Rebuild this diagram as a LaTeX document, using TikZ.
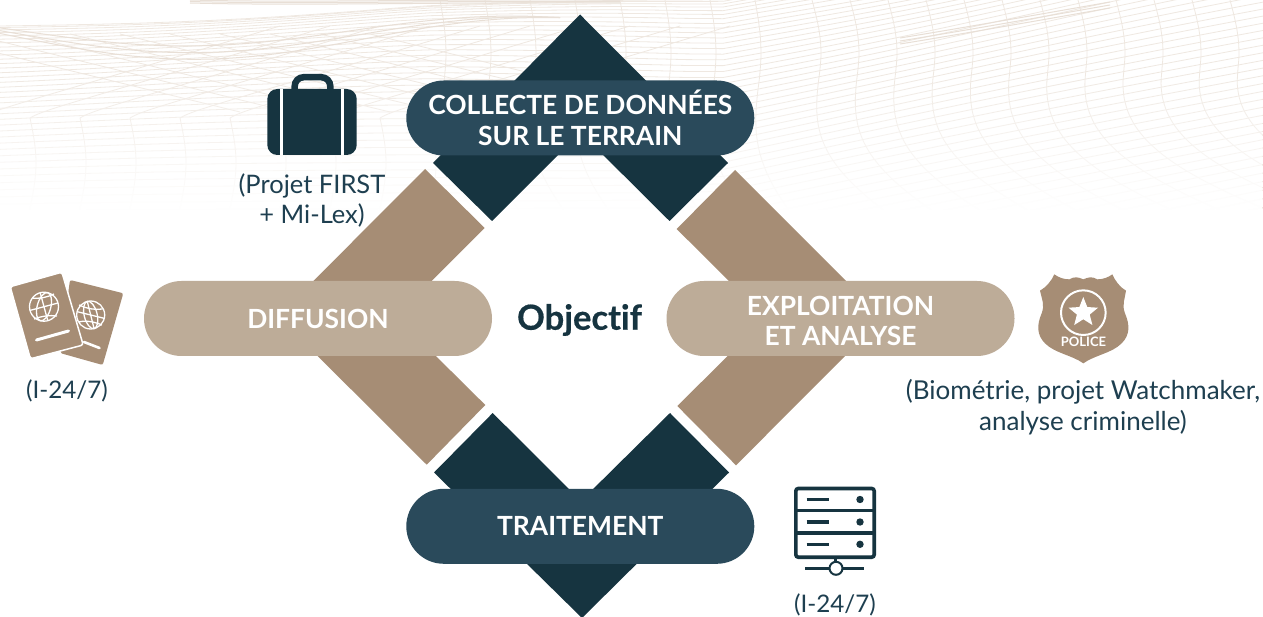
\documentclass[tikz,border=0pt]{standalone}
\usepackage{fontspec}
\setmainfont{Lato}
\newfontfamily\objfont[UprightFont=* Bold,FakeBold=0.5]{Lato}
\usetikzlibrary{shapes.misc,shapes.geometric,fadings}
\definecolor{deep}{HTML}{163440}
\definecolor{pilldark}{HTML}{2A4A5B}
\definecolor{tandark}{HTML}{A68D75}
\definecolor{tanpill}{HTML}{BDAC98}
\definecolor{ink}{HTML}{1E3F50}
\definecolor{meshc}{HTML}{EFE8E1}
\definecolor{meshd}{HTML}{E8DFD6}
\tikzfading[name=meshfade, top color=transparent!100, bottom color=transparent!0]
\tikzset{
  pillbox/.style={rounded rectangle,minimum width=348pt,minimum height=75pt,inner sep=0pt,text=white,align=center,font=\fontsize{26.4}{30.5}\selectfont\bfseries},
  caption/.style={text=ink,align=center,inner sep=0pt,font=\fontsize{25.5}{30.5}\selectfont},
  meshline/.style={draw=meshc,line width=0.8pt},
  meshband/.style={draw=meshd,line width=1pt}
}
\begin{document}
\begin{tikzpicture}[x=1pt,y=-1pt]
\useasboundingbox (0,0) rectangle (1263,617);
\fill[white] (0,0) rectangle (1263,617);
% background mesh
\begin{scope}
\clip (0,0) rectangle (1263,210);
\foreach \k in {0,...,50}{
  \draw[meshline] plot[domain=-10:1273,samples=36,variable=\x]
    ({\x},{5+320*pow(\k/50,1.4)+5*sin(\x*0.4+\k*7)*(1-\k/50)-0.2*max(\x-720,0)+0.05*max(420-\x,0)*(1-\k/50)});
}
\foreach \xo in {812,850,...,1320}{
  \draw[meshline] plot[smooth,domain=0:210,samples=16,variable=\y]
    ({\xo+9*sin(1.7*\y)+35*(max(\y-70,0)/100)*(max(\y-70,0)/100)*(1+(\xo-800)/260)},{\y});
}
\foreach \xo in {440,485,...,790}{
  \draw[meshline] plot[smooth,domain=0:210,samples=12,variable=\y]
    ({\xo+6*sin(1.7*\y)+20*(max(\y-80,0)/100)*(max(\y-80,0)/100)},{\y});
}
\foreach \xo in {-20,30,...,430}{
  \draw[meshline] plot[smooth,domain=118:210,samples=8,variable=\y]
    ({\xo+6*sin(2*(\y-118))},{\y});
  \draw[meshline] (\xo,118) .. controls ({\xo+15},109) and ({\xo+40},104) .. ({\xo+300},26);
  \draw[meshline] ({\xo-60},34) -- ({\xo+260},112);
}
\foreach \d in {0,4,8}{
  \draw[meshband] plot[smooth,domain=0:560,samples=14,variable=\x]
    ({\x},{31+\d*0.7+15*sin(\x*0.55-12)+\d*sin(\x*0.4)});
}
\foreach \d in {0,1.5,3}{
  \draw[meshband] (190,\d) .. controls (300,{\d+3}) and (440,{\d-1}) .. (620,\d);
}
\foreach \d in {0,3,6}{
  \draw[meshband] (900,{38+\d}) .. controls (950,{30+\d}) and (1030,{16+\d}) .. (1110,{2+\d});
}
\end{scope}
\fill[white,path fading=meshfade] (-2,70) rectangle (1265,210);
% chevrons
\fill[deep] (580,14.5) -- (728,163) -- (669.5,221) -- (580.5,132.5) -- (492,221) -- (433,163) -- cycle;
\fill[deep] (582,618) -- (434,472.5) -- (492.7,413) -- (581,501) -- (670,413) -- (729,472.5) -- cycle;
\fill[tandark] (425,169) -- (484.7,228) -- (396,316.5) -- (485.3,405) -- (426.7,464.7) -- (278,316.5) -- cycle;
\fill[tandark] (735,170) -- (676.7,229) -- (766,318) -- (677.3,406) -- (736,465.3) -- (883,318) -- cycle;
% pills
\node[pillbox,fill=pilldark] (collecte) at (580.3,118) {COLLECTE DE DONNÉES\\SUR LE TERRAIN};
\node[pillbox,fill=pilldark] (traitement) at (580.3,526.3) {TRAITEMENT};
\node[pillbox,fill=tanpill] (diffusion) at (318,318.5) {\rule{0pt}{21pt}DIFFUSION};
\node[pillbox,fill=tanpill] (exploitation) at (840.5,318.5) {\rule{0pt}{24.5pt}EXPLOITATION\\ET ANALYSE};
\node[text=deep,inner sep=0pt,font=\fontsize{34.5}{40}\selectfont\objfont] (objectif) at (579.5,320) {Objec\kern0pt t\kern0pt i\kern0pt f};
% captions
\node[caption] (first) at (312,200.5) {(Projet FIRST\\+ Mi-Lex)};
\node[caption,font=\fontsize{24.2}{30}\selectfont] (i247a) at (67,391) {(I-24/7)};
\node[caption,font=\fontsize{24.2}{30}\selectfont] (i247b) at (835,605) {(I-24/7)};
\node[caption,font=\fontsize{26}{30.5}\selectfont] (biom) at (1083,407) {(Biométrie, projet Watchmaker,\\analyse criminelle)};
% suitcase
\draw[deep,line width=6.5pt,rounded corners=9pt] (294.7,92) -- (294.7,77.2) -- (330.3,77.2) -- (330.3,92);
\fill[deep,rounded corners=10pt] (267.3,89) rectangle (356.7,155);
\fill[white] (280.3,89) rectangle (283.3,155);
\fill[white] (341,89) rectangle (344,155);
% passports
\fill[tandark,rounded corners=2pt] (70,280) -- (123.3,293.3) -- (102.7,365) -- (60,353) -- cycle;
\fill[tandark,draw=white,line width=1.5pt,rounded corners=2.5pt] (10.2,286.7) -- (61.9,272.2) -- (83.2,345) -- (30.4,358.8) -- cycle;
\begin{scope}[draw=white,line width=1.3pt]
  \draw (90.7,315) circle[radius=14];
  \draw (90.7,315) ellipse[x radius=6.5,y radius=14,rotate=14];
  \draw (76.9,311.6) -- (104.5,318.4);
  \draw (79,305) .. controls (88,309) and (95,310) .. (102.5,309);
  \draw (78.8,322) .. controls (86,320) and (95,322) .. (102,325);
  \draw (87.3,301.4) -- (94.1,328.6);
  \draw (44,306.7) circle[radius=14.5];
  \draw (44,306.7) ellipse[x radius=6.8,y radius=14.5,rotate=-15];
  \draw (30,310.4) -- (58,303);
  \draw (32,298) .. controls (40,299) and (48,297) .. (54,294);
  \draw (34,319) .. controls (42,316) and (50,315) .. (57,316);
  \draw (40.2,292.7) -- (47.8,320.7);
\end{scope}
\draw[white,line width=3pt,line cap=round] (36.5,340) -- (68.5,331);
\draw[white,line width=2.6pt,line cap=round] (84,342) -- (99.5,348);
% badge
\begin{scope}[shift={(1020,260)},x=0.3333pt,y=-0.3333pt]
  \fill[tandark] (190,58) .. controls (205,52) and (215,48) .. (232,58) .. controls (250,58) and (265,52) .. (277,43)
    .. controls (285,62) and (300,82) .. (318,92) .. controls (315,115) and (305,135) .. (315,160)
    .. controls (330,195) and (330,225) .. (305,250) .. controls (275,280) and (225,285) .. (190,310)
    .. controls (155,285) and (105,280) .. (75,250) .. controls (50,225) and (50,195) .. (65,160)
    .. controls (75,135) and (65,115) .. (60,92) .. controls (78,82) and (95,62) .. (103,43)
    .. controls (115,52) and (130,58) .. (148,58) .. controls (165,48) and (175,52) .. (190,58) -- cycle;
  \draw[white,line width=2pt] (190,158) circle[radius=67];
\end{scope}
\node[star,star points=5,star point ratio=2.3,fill=white,inner sep=0pt,minimum size=31pt] (badgestar) at (1083.3,312.5) {};
\node[text=white,inner sep=0pt,font=\fontsize{13}{14}\selectfont\bfseries] (police) at (1083.5,342.2) {POLICE};
% server
\draw[deep,line width=3.6pt,rounded corners=2.5pt] (795.8,488.5) rectangle (874.2,557.2);
\draw[deep,line width=3.3pt] (795.5,510.3) -- (874.5,510.3);
\draw[deep,line width=3.3pt] (795.5,533) -- (874.5,533);
\foreach \yy in {499.5,522,544.3}{
  \draw[deep,line width=3.3pt] (806.7,\yy) -- (829,\yy);
  \fill[deep] (860,\yy) circle[radius=3.7];
}
\draw[deep,line width=3.3pt] (835.5,557.5) -- (835.5,563);
\draw[deep,line width=3.3pt] (805,568.3) -- (864,568.3);
\draw[deep,line width=2pt,fill=white] (836,568.3) circle[radius=6.5];
\end{tikzpicture}
\end{document}
